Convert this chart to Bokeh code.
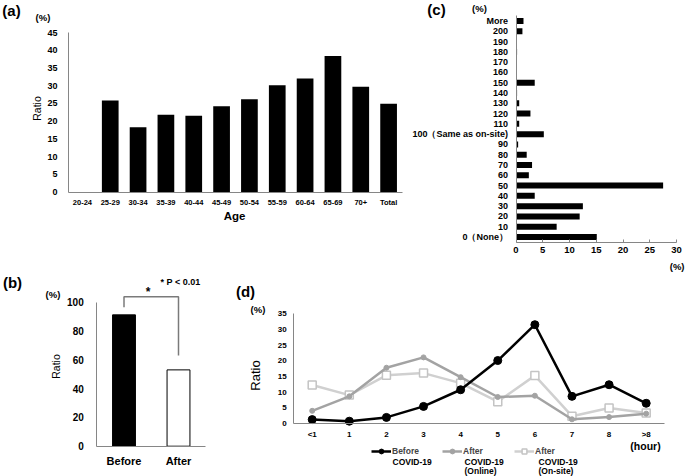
import math
from bokeh.plotting import figure
from bokeh.models import (Range1d, FixedTicker, Label, Legend, LegendItem, LinearAxis)
from bokeh.embed import file_html
from bokeh.resources import INLINE

FONT = "Liberation Sans"
AXIS_COLOR = "#868686"
W, H = 685, 476

# ---------------- data ----------------
# (a) ratio by age group
age_groups = ["20-24", "25-29", "30-34", "35-39", "40-44", "45-49",
              "50-54", "55-59", "60-64", "65-69", "70+", "Total"]
age_ratio = [0, 25.8, 18.3, 21.8, 21.5, 24.2, 26.2, 30.1, 32.0, 38.4, 29.7, 24.9]
age_ticks = [0, 5, 10, 15, 20, 25, 30, 35, 40, 45]

# (b) before / after
period = ["Before", "After"]
period_ratio = [91.2, 53.0]
period_ticks = [0, 20, 40, 60, 80, 100]
bracket_groups = ["Before", "Before", "After", "After"]
bracket_y = [96.5, 103.8, 103.8, 63.0]

# (c) online level distribution
online_levels = ["0（None）", "10", "20", "30", "40", "50", "60", "70", "80", "90",
                 "100（Same as on-site)", "110", "120", "130", "140", "150",
                 "160", "170", "180", "190", "200", "More"]
online_ratio = [15.1, 7.6, 11.9, 12.5, 3.5, 27.5, 2.4, 3.0, 2.0, 0.4,
                5.2, 0.6, 2.7, 0.6, 0.2, 3.5, 0, 0, 0.2, 0, 1.2, 1.4]
online_ticks = [0, 5, 10, 15, 20, 25, 30]

# (d) hours
hours = ["<1", "1", "2", "3", "4", "5", "6", "7", "8", ">8"]
before_covid = [1.3, 0.8, 2.0, 5.5, 10.8, 20.1, 31.5, 8.7, 12.4, 6.5]
after_online = [4.1, 8.7, 17.8, 21.1, 14.8, 8.5, 8.9, 1.4, 2.1, 3.2]
after_onsite = [12.3, 9.1, 15.4, 16.1, 12.9, 7.0, 15.3, 2.4, 5.0, 3.4]
hour_ticks = [0, 5, 10, 15, 20, 25, 30, 35]


# ---------------- helpers ----------------
def xr(v0, p0, v1, p1):
    """Range over the whole canvas width so that v0 -> pixel p0 and v1 -> pixel p1."""
    s = (p1 - p0) / (v1 - v0)
    start = v0 - p0 / s
    return Range1d(start=start, end=start + W / s)


def yr(v0, p0, v1, p1):
    """Same for y, pixels measured from the top of the canvas."""
    q0, q1 = H - p0, H - p1
    s = (q1 - q0) / (v1 - v0)
    start = v0 - q0 / s
    return Range1d(start=start, end=start + H / s)


def style_axis(ax, size, standoff, tick_in=0, tick_out=0):
    ax.axis_line_color = AXIS_COLOR
    ax.axis_line_width = 1
    ax.major_tick_out = tick_out
    ax.major_tick_in = tick_in
    ax.minor_tick_out = 0
    ax.minor_tick_in = 0
    ax.major_tick_line_color = AXIS_COLOR if (tick_in or tick_out) else None
    ax.minor_tick_line_color = None
    ax.major_label_text_font = FONT
    ax.major_label_text_font_size = f"{size}px"
    ax.major_label_text_font_style = "bold"
    ax.major_label_text_color = "black"
    ax.major_label_standoff = standoff


def add_axis(p, side, xname, yname, loc, bounds, ticks, size, standoff,
             overrides=None, tick_in=0, tick_out=0):
    ax = LinearAxis(x_range_name=xname, y_range_name=yname, fixed_location=loc,
                    bounds=bounds, ticker=FixedTicker(ticks=ticks))
    if overrides:
        ax.major_label_overrides = overrides
    style_axis(ax, size, standoff, tick_in, tick_out)
    p.add_layout(ax, side)
    return ax


def add_text(p, px, py, text, size, bold=True, angle=0.0, align="center"):
    p.add_layout(Label(x=px, y=py, text=text, text_font=FONT,
                       text_font_size=f"{size}px",
                       text_font_style="bold" if bold else "normal",
                       text_align=align, text_baseline="middle", angle=angle,
                       text_color="black"))


p = figure(width=W, height=H, x_range=Range1d(0, W), y_range=Range1d(H, 0),
           output_backend="svg", toolbar_location=None, title=None,
           x_axis_location=None, y_axis_location=None, min_border=0)
p.outline_line_color = None
p.grid.visible = False
p.background_fill_color = "white"
p.border_fill_color = "white"

# ---------------- (a) ----------------
a_idx = list(range(len(age_groups)))
p.extra_x_ranges["ax"] = xr(0, 81.9, 11, 388.1)
p.extra_y_ranges["ay"] = yr(0, 191.5, 45, 32)
p.vbar(x=a_idx, top=age_ratio, bottom=0, width=0.6, fill_color="black", line_color=None,
       x_range_name="ax", y_range_name="ay")
add_axis(p, "left", "ax", "ay", -0.5, (0, 45), age_ticks, 9, 11)
add_axis(p, "below", "ax", "ay", 0, (-0.5, len(age_groups) - 0.5), a_idx, 7.5, 6,
         overrides={i: g for i, g in enumerate(age_groups)})
add_text(p, 11, 10, "(a)", 15)
add_text(p, 42.5, 16.5, "(%)", 9.5)
add_text(p, 36, 108, "Ratio", 10.5, bold=False, angle=math.pi / 2)
add_text(p, 234, 215.5, "Age", 11.5)

# ---------------- (c) ----------------
c_idx = list(range(len(online_levels)))
p.extra_x_ranges["cx"] = xr(0, 515.5, 30, 676)
p.extra_y_ranges["cy"] = yr(0, 236.5, 21, 20.5)
p.hbar(y=c_idx, left=0, right=online_ratio, height=0.58, fill_color="black",
       line_color=None, x_range_name="cx", y_range_name="cy")
add_axis(p, "left", "cx", "cy", 0, (-0.5, len(online_levels) - 0.5), c_idx, 9, 8,
         overrides={i: g for i, g in enumerate(online_levels)})
add_axis(p, "below", "cx", "cy", -0.5, (0, 30), online_ticks, 9.5, 5, tick_in=3)
add_text(p, 436, 9, "(c)", 15)
add_text(p, 479, 8, "(%)", 9.5)
add_text(p, 684, 266, "(%)", 9.5, align="right")

# ---------------- (b) ----------------
b_idx = list(range(len(period)))
p.extra_x_ranges["bx"] = xr(0, 123.5, 1, 178)
p.extra_y_ranges["by"] = yr(0, 445.7, 100, 301.7)
p.vbar(x=b_idx, top=period_ratio, bottom=0, width=0.42,
       fill_color=["#000000", "#ffffff"], line_color="#000000", line_width=1,
       x_range_name="bx", y_range_name="by")
p.line(x=[period.index(g) for g in bracket_groups], y=bracket_y, line_color="#7a7a7a",
       line_width=1.5, x_range_name="bx", y_range_name="by")
add_axis(p, "left", "bx", "by", -0.5, (0, 100), period_ticks, 10, 13)
add_axis(p, "below", "bx", "by", 0, (-0.5, len(period) - 0.5), b_idx, 11, 9,
         overrides={i: g for i, g in enumerate(period)})
add_text(p, 12, 282, "(b)", 15)
add_text(p, 52.5, 293.5, "(%)", 9.5)
add_text(p, 55, 366, "Ratio", 10.5, bold=False, angle=math.pi / 2)
add_text(p, 147.5, 291, "*", 12)
add_text(p, 180, 281, "* P < 0.01", 9)

# ---------------- (d) ----------------
d_idx = list(range(len(hours)))
p.extra_x_ranges["dx"] = xr(0, 311.7, 9, 645.7)
p.extra_y_ranges["dy"] = yr(0, 423.2, 35, 313.2)
kw = dict(x_range_name="dx", y_range_name="dy")
r_s_l = p.line(d_idx, after_onsite, line_color="#d0d0d0", line_width=2.5, **kw)
r_s_m = p.scatter(d_idx, after_onsite, marker="square", size=8, fill_color="white",
                  line_color="#c4c4c4", line_width=1.5, **kw)
r_o_l = p.line(d_idx, after_online, line_color="#a3a3a3", line_width=2.5, **kw)
r_o_m = p.scatter(d_idx, after_online, marker="circle", size=5, fill_color="#a3a3a3",
                  line_color="#a3a3a3", **kw)
r_b_l = p.line(d_idx, before_covid, line_color="black", line_width=2.5, **kw)
r_b_m = p.scatter(d_idx, before_covid, marker="circle", size=8, fill_color="black",
                  line_color="black", **kw)
add_axis(p, "left", "dx", "dy", -0.5, (0, 35), hour_ticks, 8, 7)
add_axis(p, "below", "dx", "dy", 0, (-0.5, len(hours) - 0.5), d_idx, 8, 6,
         overrides={i: g for i, g in enumerate(hours)})
add_text(p, 245, 291, "(d)", 15)
add_text(p, 257.5, 308.5, "(%)", 9.5)
add_text(p, 255, 375, "Ratio", 13, bold=False, angle=math.pi / 2)
add_text(p, 645, 445, "(hour)", 10.5)

legend_rows = [("Before", [r_b_l, r_b_m], 371),
               ("After", [r_o_l, r_o_m], 442),
               ("After", [r_s_l, r_s_m], 514)]
for lbl, rs, px in legend_rows:
    lg = Legend(items=[LegendItem(label=lbl, renderers=rs)],
                location=(px, H - 457), orientation="vertical",
                glyph_width=20, glyph_height=12, label_height=12, label_standoff=1,
                padding=0, margin=0, spacing=0, border_line_color=None,
                background_fill_alpha=0, label_text_font=FONT,
                label_text_font_size="8.5px", label_text_font_style="bold")
    p.add_layout(lg)
add_text(p, 392, 461, "COVID-19", 8.5, align="left")
add_text(p, 464, 461, "COVID-19", 8.5, align="left")
add_text(p, 464, 470, "(Online)", 8.5, align="left")
add_text(p, 538, 461, "COVID-19", 8.5, align="left")
add_text(p, 538, 470, "(On-site)", 8.5, align="left")

open("out.html", "w").write(file_html(p, INLINE))
